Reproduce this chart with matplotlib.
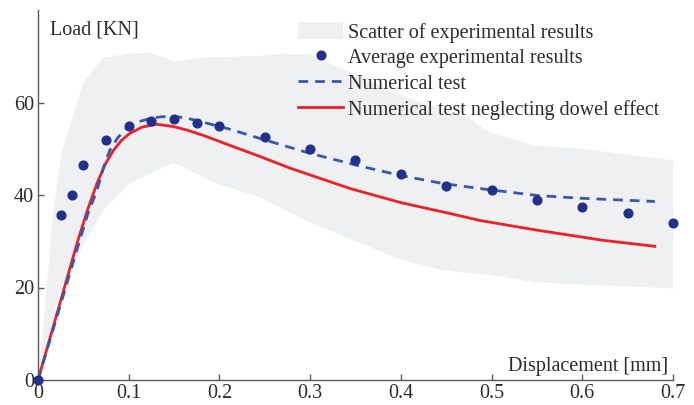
import matplotlib
matplotlib.use('Agg')
import matplotlib.pyplot as plt
from matplotlib.patches import Patch
from matplotlib.lines import Line2D

# ==[0] Data: load-displacement results

# Envelope of the experimental scatter (upper and lower bound)
band_up_x = [0.0, 0.0055, 0.0165, 0.026, 0.05, 0.072, 0.101, 0.123, 0.149, 0.182, 0.245,
             0.267, 0.3, 0.4, 0.476, 0.498, 0.546, 0.598, 0.7]
band_up_y = [0.0, 10.8, 36.0, 49.0, 64.3, 69.7, 70.6, 70.8, 68.9, 69.7, 70.1,
             70.6, 70.4, 61.5, 56.5, 53.5, 50.7, 50.0, 47.5]
band_lo_x = [0.0, 0.024, 0.057, 0.072, 0.101, 0.149, 0.197, 0.245, 0.3, 0.396, 0.446,
             0.5, 0.546, 0.6, 0.7]
band_lo_y = [0.0, 19.4, 31.7, 36.7, 42.5, 47.0, 42.5, 39.5, 34.1, 26.3, 23.7,
             22.7, 21.2, 20.6, 19.8]

# Average experimental results
avg_x = [0.0, 0.025, 0.0375, 0.05, 0.075, 0.1, 0.125, 0.15, 0.175, 0.2, 0.25,
         0.3, 0.35, 0.4, 0.45, 0.5, 0.55, 0.6, 0.65, 0.7]
avg_y = [0.0, 35.6, 40.0, 46.4, 52.0, 55.0, 56.0, 56.5, 55.5, 55.0, 52.5,
         50.0, 47.5, 44.5, 42.0, 41.0, 39.0, 37.5, 36.2, 34.0]

# Numerical test
num_x = [0.0, 0.046, 0.055, 0.065, 0.072, 0.079, 0.088, 0.098, 0.11, 0.123, 0.135,
         0.149, 0.162, 0.175, 0.212, 0.245, 0.3, 0.352, 0.4, 0.446, 0.487,
         0.55, 0.598, 0.68]
num_y = [0.0, 30.2, 36.0, 41.0, 45.8, 49.6, 52.4, 54.4, 55.8, 56.5, 56.9,
         57.0, 56.7, 56.1, 54.2, 52.2, 49.0, 46.4, 44.2, 42.5, 41.4,
         39.9, 39.3, 38.6]

# Numerical test neglecting dowel effect
nod_x = [0.0, 0.044, 0.055, 0.065, 0.074, 0.083, 0.092, 0.101, 0.115, 0.131, 0.149,
         0.165, 0.182, 0.212, 0.245, 0.278, 0.344, 0.399, 0.454, 0.487,
         0.55, 0.623, 0.68]
nod_y = [0.0, 30.2, 37.0, 42.5, 46.6, 49.6, 51.8, 53.3, 54.7, 55.3, 54.8,
         54.0, 52.9, 50.7, 48.3, 45.8, 41.4, 38.4, 36.0, 34.5,
         32.4, 30.2, 28.9]

x_ticks = [0, 0.1, 0.2, 0.3, 0.4, 0.5, 0.6, 0.7]
x_labels = ['0', '0.1', '0.2', '0.3', '0.4', '0.5', '0.6', '0.7']
y_ticks = [0, 20, 40, 60]

# ==[1] Style

plt.rcParams['font.family'] = ['Liberation Serif', 'DejaVu Serif']
fs = 14.5
txt_col = '#2b2b2b'
ax_col = '#5a5a5a'
band_col = '#eff0f2'
dot_col = '#22308a'
num_col = '#3857ad'
nod_col = '#ee1f26'

# ==[2] Figure

fig = plt.figure(figsize=(6.94, 4.05), dpi=100)
ax = fig.add_axes([38 / 694, 25 / 405, 635 / 694, 370 / 405])

# scatter envelope as a closed polygon
poly_x = band_up_x + band_lo_x[::-1]
poly_y = band_up_y + band_lo_y[::-1]
ax.fill(poly_x, poly_y, color=band_col, lw=0, zorder=1)

ax.plot(nod_x, nod_y, color=nod_col, lw=2.0, zorder=3)
ax.plot(num_x, num_y, color=num_col, lw=2.0, ls=(0, (3.5, 2.5)), zorder=4)
ax.plot(avg_x, avg_y, ls='none', marker='o', ms=6.3, color=dot_col, zorder=5, clip_on=False)

ax.set_xlim(0, 0.7)
ax.set_ylim(0, 80)
ax.set_xticks(x_ticks)
ax.set_xticklabels(x_labels)
ax.set_yticks(y_ticks)

for side in ['top', 'right']:
    ax.spines[side].set_visible(False)
for side in ['left', 'bottom']:
    ax.spines[side].set_color(ax_col)
    ax.spines[side].set_linewidth(1.0)

ax.tick_params(direction='in', length=4, width=1.0, color=ax_col,
               labelsize=fs, labelcolor=txt_col, pad=3)

ax.text(50 / 694, 1 - 34 / 405, 'Load [KN]', transform=fig.transFigure,
        fontsize=fs, color=txt_col, ha='left', va='baseline')
ax.text(668 / 694, 1 - 371 / 405, 'Displacement [mm]', transform=fig.transFigure,
        fontsize=fs, color=txt_col, ha='right', va='baseline')

handles = [
    Patch(facecolor=band_col, edgecolor='none'),
    Line2D([], [], ls='none', marker='o', ms=6.3, color=dot_col),
    Line2D([], [], color=num_col, lw=2.0, ls=(0, (3.5, 2.5))),
    Line2D([], [], color=nod_col, lw=2.0),
]
labels = ['Scatter of experimental results', 'Average experimental results',
          'Numerical test', 'Numerical test neglecting dowel effect']
leg = fig.legend(handles, labels, loc='upper left', bbox_to_anchor=(298 / 694, 1 - 22 / 405),
                 frameon=False, fontsize=fs, handlelength=2.25, handleheight=0.95,
                 handletextpad=0.25, labelspacing=0.25, borderpad=0, borderaxespad=0)
for t in leg.get_texts():
    t.set_color(txt_col)

fig.savefig('out.png', dpi=100)
